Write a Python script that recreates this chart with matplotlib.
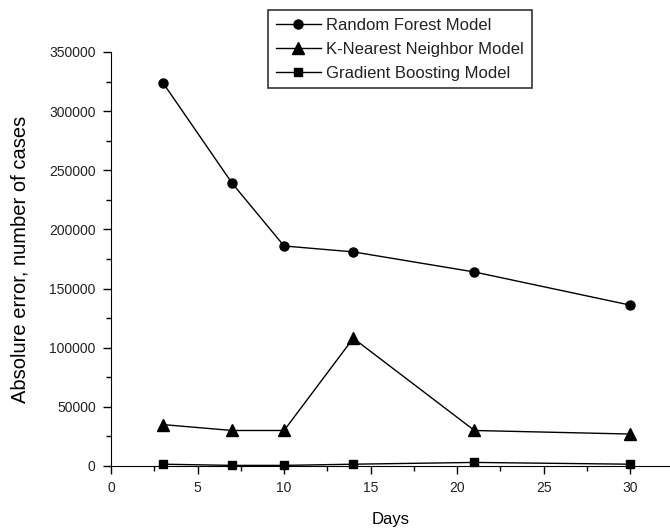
import matplotlib
matplotlib.use("Agg")
import matplotlib.pyplot as plt
from matplotlib.ticker import MultipleLocator

plt.rcParams["font.family"] = ["Liberation Sans", "DejaVu Sans"]

days = [3, 7, 10, 14, 21, 30]
random_forest = [324000, 239000, 186000, 181000, 164000, 136000]
knn = [35000, 30000, 30000, 108000, 30000, 27000]
grad_boost = [1500, 500, 500, 1500, 3000, 1500]

fig = plt.figure(figsize=(6.7, 5.3), dpi=100)
# axes box: x from 111 px to right edge, y from 52 px to 466 px
ax = fig.add_axes([0.1657, 0.1208, 0.8343, 0.7811])

l1, = ax.plot(days, random_forest, color="black", lw=1.0, marker="o", ms=6.5,
              label="Random Forest Model", clip_on=False)
l2, = ax.plot(days, knn, color="black", lw=1.0, marker="^", ms=8,
              label="K-Nearest Neighbor Model", clip_on=False)
l3, = ax.plot(days, grad_boost, color="black", lw=1.0, marker="s", ms=5.5,
              label="Gradient Boosting Model", clip_on=False)

ax.set_xlim(0, 32.3)
ax.set_ylim(0, 350000)
ax.xaxis.set_major_locator(MultipleLocator(5))
ax.xaxis.set_minor_locator(MultipleLocator(2.5))
ax.yaxis.set_major_locator(MultipleLocator(50000))
ax.yaxis.set_minor_locator(MultipleLocator(25000))
for side in ["top", "right"]:
    ax.spines[side].set_visible(False)
ax.tick_params(which="major", direction="out", length=6, width=1,
               labelsize=10, labelcolor="#222222", pad=5)
ax.tick_params(which="minor", direction="out", length=3.5, width=1)

ax.set_xlabel("Days", fontsize=12, labelpad=12)
ax.set_ylabel("Absolure error, number of cases", fontsize=14.5, labelpad=14)

leg = fig.legend(handles=[l1, l2, l3], loc="upper left",
                 bbox_to_anchor=(0.40, 0.981), frameon=True, fancybox=False,
                 edgecolor="black", fontsize=12, handlelength=2.75,
                 borderpad=0.45, labelspacing=0.55, handletextpad=0.3,
                 borderaxespad=0, labelcolor="#222222")
leg.get_frame().set_linewidth(1.2)

fig.savefig("out.png", dpi=100)
